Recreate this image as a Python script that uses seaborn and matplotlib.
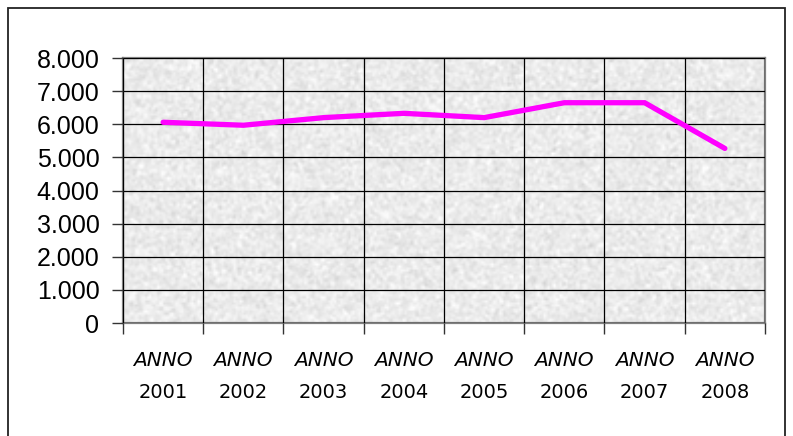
import numpy as np
import pandas as pd
import matplotlib
matplotlib.use('Agg')
import matplotlib.pyplot as plt
import matplotlib.transforms as mtransforms
from matplotlib.patches import Rectangle
import seaborn as sns

# dati
anni = ['2001', '2002', '2003', '2004', '2005', '2006', '2007', '2008']
valori = [6060, 5970, 6200, 6330, 6200, 6650, 6650, 5270]
y_ticks = [0, 1000, 2000, 3000, 4000, 5000, 6000, 7000, 8000]
y_labels = ['0', '1.000', '2.000', '3.000', '4.000', '5.000', '6.000', '7.000', '8.000']

df = pd.DataFrame({'anno': anni, 'valore': valori})

sns.set_style('white')
fig = plt.figure(figsize=(7.93, 4.36), dpi=100)
ax = fig.add_axes([123 / 793, 1 - 323 / 436, 642 / 793, 265 / 436])

# sfondo granito
rng = np.random.default_rng(3)
noise = rng.normal(0, 1, (130, 320))
sm = (noise[:-1, :-1] + noise[1:, :-1] + noise[:-1, 1:] + noise[1:, 1:]) / 4
tex = np.clip(0.92 + 0.05 * sm, 0, 1)
ax.imshow(tex, cmap='gray', vmin=0, vmax=1, extent=[0, 1, 0, 1],
          transform=ax.transAxes, aspect='auto', zorder=0, interpolation='bilinear')

sns.lineplot(data=df, x='anno', y='valore', sort=False, color='#ff00ff',
             linewidth=3.8, ax=ax, zorder=3, solid_capstyle='round',
             solid_joinstyle='miter')

ax.set_xlim(-0.5, len(anni) - 0.5)
ax.set_ylim(0, 8000)
ax.set_yticks(y_ticks)
ax.set_yticklabels(y_labels, family='Liberation Sans', fontsize=18, color='black')
ax.set_xticks(np.arange(len(anni) + 1) - 0.5)
ax.set_xticklabels([])
ax.tick_params(axis='y', direction='out', length=8, width=1, color='#333333', pad=9, left=True)
ax.tick_params(axis='x', direction='out', length=8, width=1, color='#333333', bottom=True)
ax.grid(True, color='black', linewidth=0.9, zorder=1)
ax.set_axisbelow(False)
for line in ax.get_xgridlines() + ax.get_ygridlines():
    line.set_zorder(1)
ax.set_xlabel('')
ax.set_ylabel('')
for s in ax.spines.values():
    s.set_color('#808080')
    s.set_linewidth(1.6)
    s.set_visible(True)

trans = mtransforms.blended_transform_factory(ax.transData, fig.transFigure)
for i, a in enumerate(anni):
    ax.text(i, 1 - 360 / 436, 'ANNO', transform=trans, ha='center', va='center',
            fontsize=14.5, style='italic', family='DejaVu Sans', color='black')
    ax.text(i, 1 - 392 / 436, a, transform=trans, ha='center', va='center',
            fontsize=14, family='DejaVu Sans', color='black')

fig.patches.append(Rectangle((8 / 793, -0.01), 777 / 793, 1 - 8 / 436 + 0.01,
                             transform=fig.transFigure, fill=False,
                             edgecolor='#222222', linewidth=1.3))

fig.savefig('out.png', dpi=100)
